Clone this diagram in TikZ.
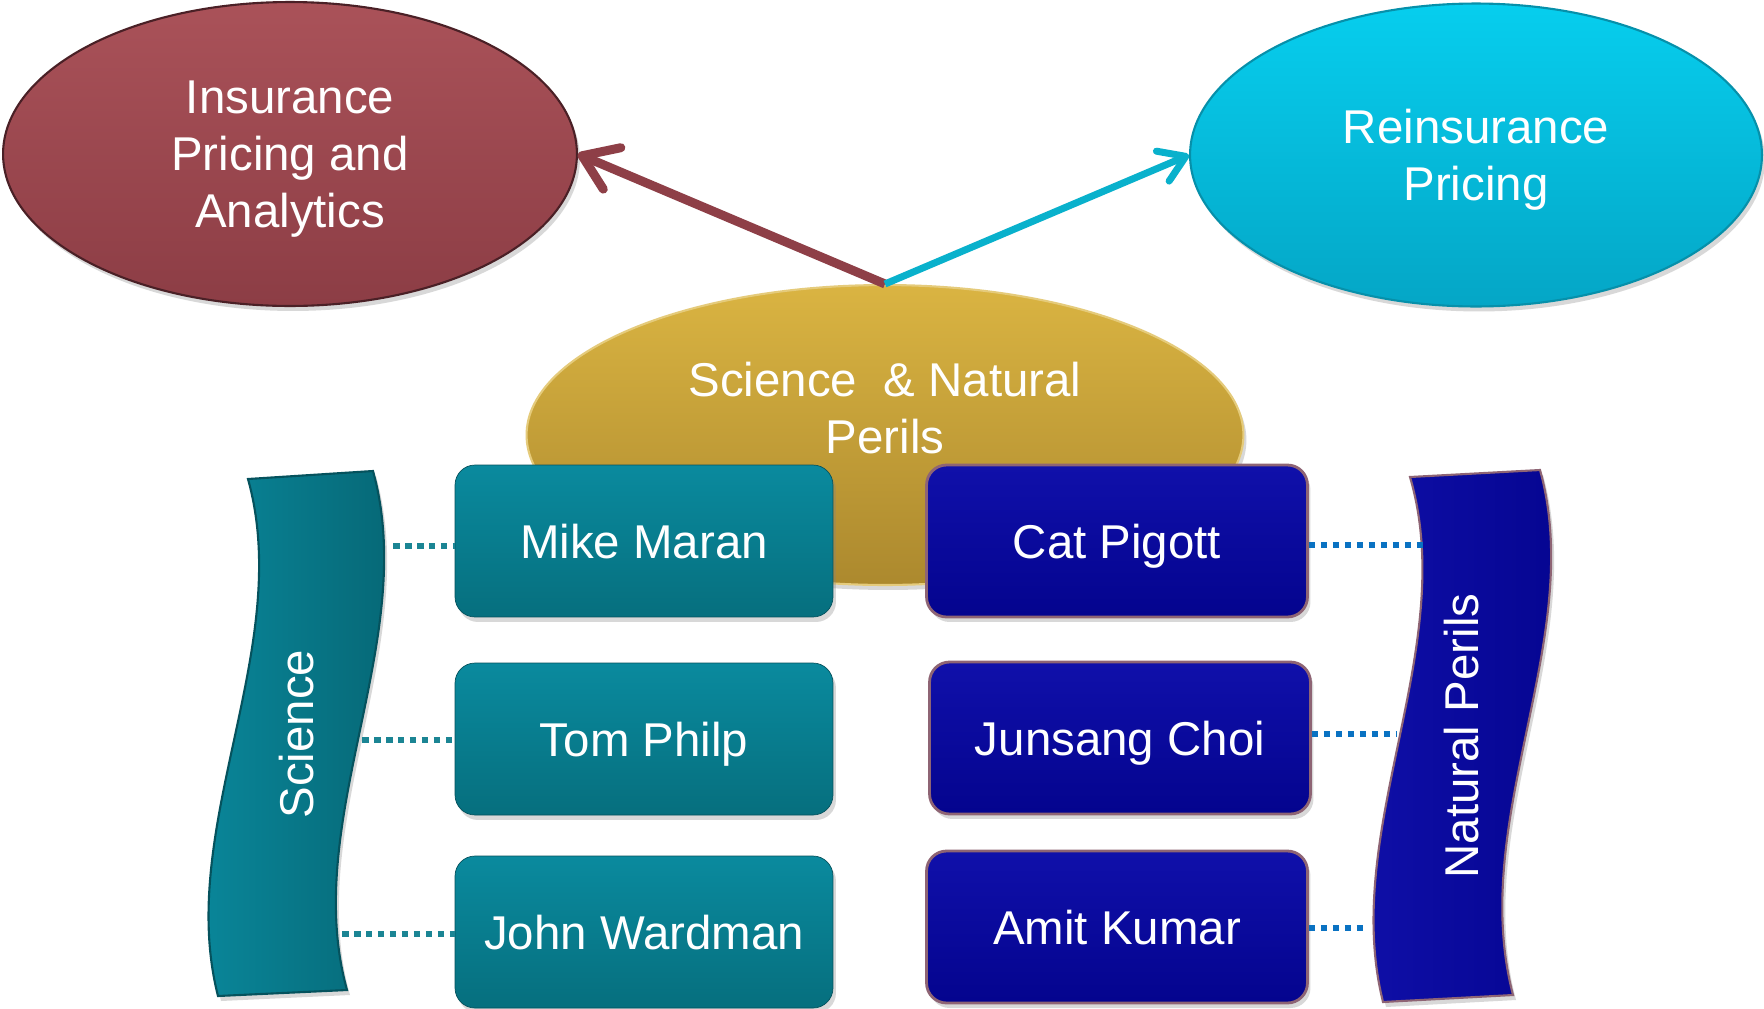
\documentclass[tikz,border=0pt]{standalone}
\usepackage{fontspec}
\setmainfont{Liberation Sans}
\usetikzlibrary{arrows.meta, positioning, shapes.geometric, shadows}
\definecolor{winehi}{HTML}{AA5259}
\definecolor{winelo}{HTML}{8C3D45}
\definecolor{winedark}{HTML}{4A2026}
\definecolor{cyanhi}{HTML}{06CEEE}
\definecolor{cyanlo}{HTML}{05A6C6}
\definecolor{cyandark}{HTML}{0690AA}
\definecolor{goldhi}{HTML}{DAB442}
\definecolor{goldlo}{HTML}{AC892E}
\definecolor{tealhi}{HTML}{0A8A9E}
\definecolor{teallo}{HTML}{066F7E}
\definecolor{tealdark}{HTML}{05525D}
\definecolor{navyhi}{HTML}{1010AA}
\definecolor{navylo}{HTML}{04048E}
\definecolor{mauve}{HTML}{8E6474}
\definecolor{arrowred}{HTML}{8E3F47}
\definecolor{arrowcyan}{HTML}{09B1CC}
\definecolor{dotteal}{HTML}{1B8594}
\definecolor{dotblue}{HTML}{0A72C2}
\tikzset{
  bigtext/.style={font=\fontsize{27}{32.5}\selectfont, text=white, align=center},
  softshadow/.style={drop shadow={opacity=0.3, shadow xshift=0.06cm, shadow yshift=-0.1cm}},
  bubble/.style={ellipse, bigtext, line width=1.2pt, softshadow, text depth=0pt},
  person/.style={rectangle, rounded corners=0.4cm, bigtext, minimum height=3.04cm,
    text height=0.68cm, text depth=0pt, softshadow},
  personS/.style={person, draw=tealdark, top color=tealhi, bottom color=teallo, minimum width=7.56cm},
  personN/.style={person, draw=mauve, line width=1.6pt, top color=navyhi, bottom color=navylo, minimum width=7.62cm},
  banner/.style={line width=1.2pt, softshadow},
  bannertext/.style={bigtext, rotate=90},
  redarrow/.style={-{Straight Barb[length=0.65cm, width=0.9cm, round]}, line width=0.18cm, arrowred},
  cyanarrow/.style={-{Straight Barb[length=0.5cm, width=0.65cm, round]}, line width=0.14cm, arrowcyan},
  dotline/.style={line width=0.13cm, dash pattern=on 0.13cm off 0.11cm},
}
\begin{document}
\begin{tikzpicture}[x=0.02cm, y=-0.02cm]
\fill[white] (0,0) rectangle (1764,1008);
\useasboundingbox (0,0) rectangle (1764,1008);

% top ellipses
\node[bubble, draw=winedark, top color=winehi, bottom color=winelo,
  minimum width=11.48cm, minimum height=6.08cm] (ins) at (290,154)
  {Insurance\\Pricing and\\Analytics};
\node[bubble, draw=cyandark, top color=cyanhi, bottom color=cyanlo,
  minimum width=11.44cm, minimum height=6.06cm] (rein) at (1476,155)
  {Reinsurance\\Pricing};
\node[bubble, draw=goldhi!70!white, top color=goldhi, bottom color=goldlo,
  minimum width=14.34cm, minimum height=6cm] (snp) at (885,435) {};
\node[bigtext] (snptext) at (885,408) {Science~~\& Natural\\Perils};

% people
\node[personS] (mike) at (644,541) {Mike Maran};
\node[personS] (tom) at (644,739) {Tom Philp};
\node[personS] (john) at (644,932) {John Wardman};
\node[personN] (cat) at (1117,541) {Cat Pigott};
\node[personN] (choi) at (1120,738) {Junsang Choi};
\node[personN] (amit) at (1117,927) {Amit Kumar};

% side banners
\draw[banner, draw=tealdark, left color=tealhi, right color=teallo!90!black]
  (248,479) -- (373,471) .. controls (420,640) and (300,820) .. (347,990)
  -- (218,996) .. controls (175,828) and (295,648) .. cycle;
\node[bannertext] (sci) at (297,734) {Science};
\draw[banner, draw=mauve, left color=navyhi, right color=navylo]
  (1410,477) -- (1540,470) .. controls (1587,639) and (1467,819) .. (1513,995)
  -- (1383,1002) .. controls (1340,830) and (1460,648) .. cycle;
\node[bannertext] (nat) at (1462,736) {Natural Perils};

% banner edge points
\coordinate (sciA) at (393,546);
\coordinate (sciB) at (362,740);
\coordinate (sciC) at (342,934);
\coordinate (natA) at (1425,545);
\coordinate (natB) at (1397,734);
\coordinate (natC) at (1368,928);

\draw[dotline, dotteal] (sciA) -- (sciA -| mike.west);
\draw[dotline, dotteal] (sciB) -- (sciB -| tom.west);
\draw[dotline, dotteal] (sciC) -- (sciC -| john.west);
\draw[dotline, dotblue] (cat.east |- natA) -- (natA);
\draw[dotline, dotblue] (choi.east |- natB) -- (natB);
\draw[dotline, dotblue] (amit.east |- natC) -- (natC);

% arrows
\draw[redarrow] (snp.north) -- (ins.east);
\draw[cyanarrow] (snp.north) -- (rein.west);
\end{tikzpicture}
\end{document}
